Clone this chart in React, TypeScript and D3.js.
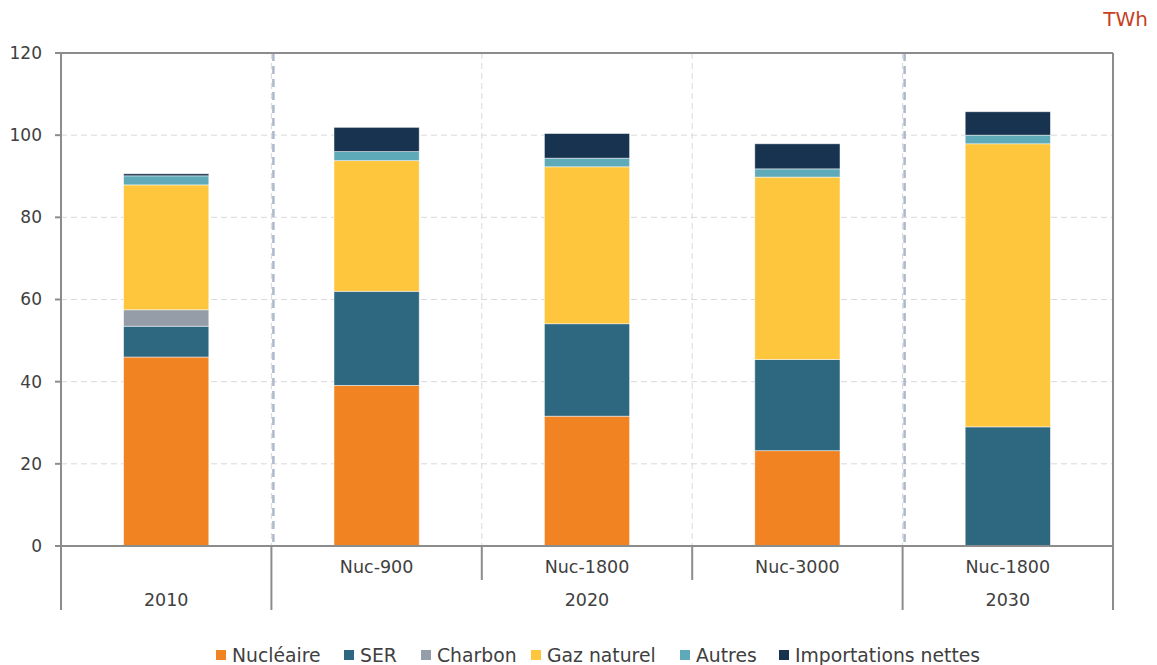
import React from "react";
import * as d3 from "d3";

const categories = ["2010", "Nuc-900", "Nuc-1800", "Nuc-3000", "Nuc-1800 "];
const subLabels = ["", "Nuc-900", "Nuc-1800", "Nuc-3000", "Nuc-1800"];
const groups = [
  { label: "2010", start: 0, end: 1 },
  { label: "2020", start: 1, end: 4 },
  { label: "2030", start: 4, end: 5 },
];
const seriesNames = ["Nucléaire", "SER", "Charbon", "Gaz naturel", "Autres", "Importations nettes"];
const seriesColors = ["#F28322", "#2E6880", "#959DA8", "#FEC63D", "#5FAAB8", "#183350"];
const nucleaire = [46.0, 39.1, 31.6, 23.2, 0];
const ser = [7.5, 22.9, 22.5, 22.2, 29.0];
const charbon = [4.0, 0, 0, 0, 0];
const gaz = [30.4, 31.8, 38.2, 44.4, 68.9];
const autres = [2.2, 2.2, 2.1, 2.0, 2.1];
const importations = [0.5, 5.9, 6.0, 6.1, 5.7];
const yTicks = [0, 20, 40, 60, 80, 100, 120];

const W = 1157, H = 665;
const M = { left: 61, right: 1113, top: 53, bottom: 546 };
const FONT = "DejaVu Sans, sans-serif";

export default function App() {
  const seriesData = [nucleaire, ser, charbon, gaz, autres, importations];
  const x = d3.scaleBand<number>().domain(d3.range(categories.length)).range([M.left, M.right]).paddingInner(0).paddingOuter(0);
  const y = d3.scaleLinear().domain([0, 120]).range([M.bottom, M.top]);
  const bw = x.bandwidth() * 0.405;
  const rows = categories.map((c, i) => {
    const o: any = { i };
    seriesNames.forEach((s, k) => (o[s] = seriesData[k][i]));
    return o;
  });
  const stack = d3.stack<any>().keys(seriesNames)(rows);
  const boundaries = d3.range(1, categories.length).map((i) => x(i)!);
  const sepIdx = [1, 4];
  const axisColor = "#8C8C8C";
  const textColor = "#404040";

  return (
    <svg width={W} height={H} style={{ display: "block", position: "absolute", left: 0, top: 0 }} fontFamily={FONT}>
      <rect width={W} height={H} fill="#fff" />
      {yTicks.filter((t) => t > 0 && t < 120).map((t) => (
        <line key={t} x1={M.left} x2={M.right} y1={y(t)} y2={y(t)} stroke="#D9D9D9" strokeDasharray="6,4" strokeWidth={1} />
      ))}
      {boundaries.map((bx, k) => (
        <line key={k} x1={bx} x2={bx} y1={M.top} y2={M.bottom} stroke="#D9D9D9" strokeDasharray="6,4" strokeWidth={1} />
      ))}
      {sepIdx.map((i) => (
        <line key={i} x1={x(i)! + 2} x2={x(i)! + 2} y1={M.top} y2={M.bottom} stroke="#ADB9CA" strokeDasharray="8,5" strokeWidth={2.5} />
      ))}
      {stack.map((layer, k) => (
        <g key={k} fill={seriesColors[k]}>
          {layer.map((d, i) =>
            d[1] - d[0] > 0 ? (
              <rect key={i} x={x(i)! + x.bandwidth() / 2 - bw / 2} width={bw} y={y(d[1])} height={y(d[0]) - y(d[1])} stroke="#ffffff" strokeOpacity={0.6} strokeWidth={0.8} />
            ) : null
          )}
        </g>
      ))}
      <line x1={M.left - 6} x2={M.right} y1={M.top} y2={M.top} stroke={axisColor} strokeWidth={2} />
      <line x1={M.right} x2={M.right} y1={M.top} y2={610} stroke={axisColor} strokeWidth={2} />
      <line x1={M.left} x2={M.left} y1={M.top} y2={610} stroke={axisColor} strokeWidth={2} />
      <line x1={M.left - 6} x2={M.right} y1={M.bottom} y2={M.bottom} stroke={axisColor} strokeWidth={2} />
      {yTicks.map((t) => (
        <g key={t}>
          <line x1={M.left - 6} x2={M.left} y1={y(t)} y2={y(t)} stroke={axisColor} strokeWidth={2} />
          <text x={42} y={y(t)} dy="0.35em" textAnchor="end" fontSize={17} fill={textColor}>{t}</text>
        </g>
      ))}
      {boundaries.map((bx, k) => {
        const isSep = sepIdx.includes(k + 1);
        return <line key={k} x1={bx} x2={bx} y1={M.bottom} y2={isSep ? 610 : 580} stroke={axisColor} strokeWidth={2} />;
      })}
      {subLabels.map((s, i) => (
        s ? <text key={i} x={x(i)! + x.bandwidth() / 2} y={567} dy="0.35em" textAnchor="middle" fontSize={17.5} fill={textColor}>{s}</text> : null
      ))}
      {groups.map((g) => (
        <text key={g.label} x={(x(g.start)! + (g.end < categories.length ? x(g.end)! : M.right)) / 2} y={600} dy="0.35em" textAnchor="middle" fontSize={17.5} fill={textColor}>{g.label}</text>
      ))}
      <text x={1148} y={19} dy="0.35em" textAnchor="end" fontSize={20} fill="#C8401E">TWh</text>
      <Legend />
    </svg>
  );
}

function Legend() {
  const xs = [216, 344, 421, 531, 680, 779];
  return (
    <g>
      {seriesNames.map((s, k) => (
        <g key={s} transform={`translate(${xs[k]},655)`}>
          <rect x={0} y={-5} width={10} height={10} fill={seriesColors[k]} />
          <text x={16} y={0} dy="0.35em" fontSize={18.8} fill="#404040">{s}</text>
        </g>
      ))}
    </g>
  );
}
